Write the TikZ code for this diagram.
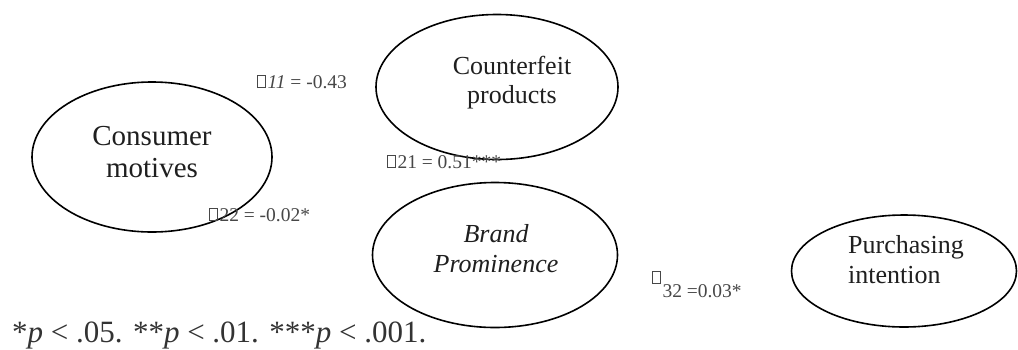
\documentclass[tikz,border=0pt]{standalone}
\usepackage{fontspec}
\setmainfont{Liberation Serif}
\usetikzlibrary{shapes.geometric}
\newcommand\tofu{\kern0.04em\hbox{\vrule width .05em\vbox to .68em{\hrule height .05em width .38em\vfil\hrule height .05em}\vrule width .05em}\kern0.06em}
\tikzset{
  latent/.style={draw=black, line width=1.6pt, ellipse, inner sep=0pt},
  bigtxt/.style={anchor=base, inner sep=0pt, text=black!88, font=\fontsize{26}{30}\selectfont},
  coef/.style={anchor=base west, inner sep=0pt, text=black!72, font=\fontsize{19.5}{22}\selectfont},
}
\begin{document}
\begin{tikzpicture}[x=1pt,y=-1pt]
\useasboundingbox (0,0) rectangle (1018,349);
% ellipses
\node[latent, minimum width=240, minimum height=150] (cm) at (152,157) {};
\node[latent, minimum width=242, minimum height=145] (cp) at (497,87) {};
\node[latent, minimum width=245, minimum height=145] (bp) at (495,255) {};
\node[latent, minimum width=225, minimum height=112] (pi) at (904,271) {};
% texts
\node[bigtxt, font=\fontsize{29}{32}\selectfont] (cm1) at (152,145) {Consumer};
\node[bigtxt, font=\fontsize{29}{32}\selectfont] (cm2) at (152,177) {motives};
\node[bigtxt] (cp1) at (512,74) {Counterfeit};
\node[bigtxt] (cp2) at (512,103) {products};
\node[bigtxt] (bp1) at (496,242) {\itshape Brand};
\node[bigtxt] (bp2) at (496,272) {\itshape Prominence};
\node[bigtxt, anchor=base west] (pi1) at (848,253) {Purchasing};
\node[bigtxt, anchor=base west] (pi2) at (848,283) {intention};
% coefficients
\node[coef] (g11) at (256,88) {\tofu\textit{11} = -0.43};
\node[coef] (g21) at (386,168) {\tofu21 = 0.51***};
\node[coef] (g22) at (208,221) {\tofu22 = -0.02*};
\node[coef] (g32) at (651,297) {\raisebox{13pt}{\tofu}32 =0.03*};
% note
\node[anchor=base west, inner sep=0pt, text=black!80, font=\fontsize{31}{34}\selectfont] (note) at (12,342) {*\textit{p} < .05. **\textit{p} < .01. ***\textit{p} < .001.};
\end{tikzpicture}
\end{document}
